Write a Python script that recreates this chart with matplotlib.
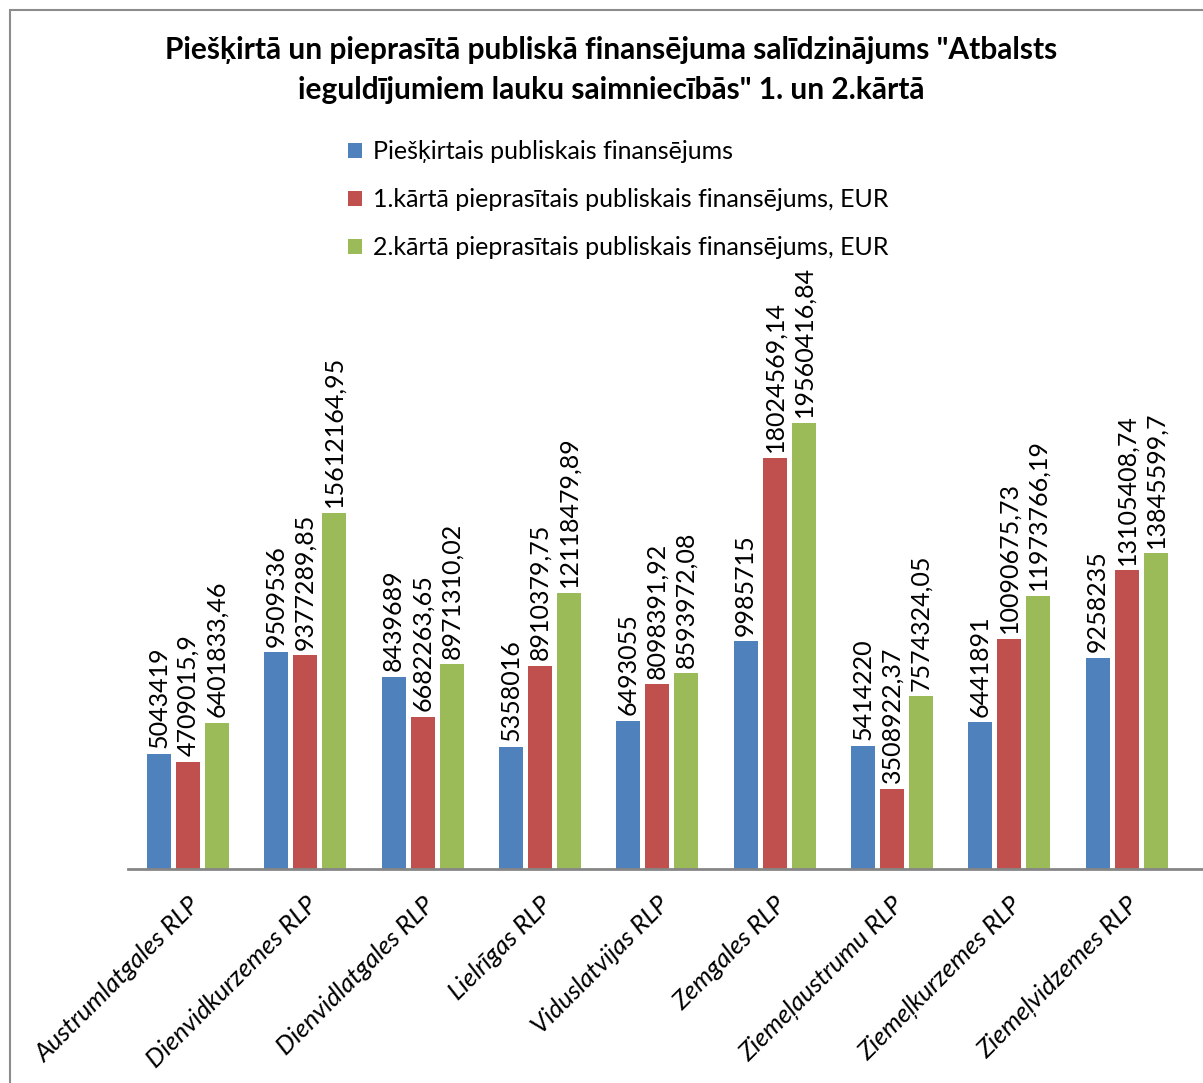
import matplotlib
matplotlib.use('Agg')
import matplotlib.pyplot as plt
from matplotlib.patches import Rectangle
import numpy as np

plt.rcParams['font.family'] = ['Lato', 'DejaVu Sans']

regions = ['Austrumlatgales RLP', 'Dienvidkurzemes RLP', 'Dienvidlatgales RLP', 'Lielrīgas RLP',
           'Viduslatvijas RLP', 'Zemgales RLP', 'Ziemeļaustrumu RLP', 'Ziemeļkurzemes RLP',
           'Ziemeļvidzemes RLP']
pieskirts = [5043419, 9509536, 8439689, 5358016, 6493055, 9985715, 5414220, 6441891, 9258235]
karta1 = [4709015.9, 9377289.85, 6682263.65, 8910379.75, 8098391.92, 18024569.14, 3508922.37,
          10090675.73, 13105408.74]
karta2 = [6401833.46, 15612164.95, 8971310.02, 12118479.89, 8593972.08, 19560416.84, 7574324.05,
          11973766.19, 13845599.7]
series_names = ['Piešķirtais publiskais finansējums',
                '1.kārtā pieprasītais publiskais finansējums, EUR',
                '2.kārtā pieprasītais publiskais finansējums, EUR']
colors = ['#4F81BD', '#C0504D', '#9BBB59']

W, H = 1203, 1083
fig = plt.figure(figsize=(W / 100, H / 100), dpi=100)

# chart border (cropped at right/bottom like the screenshot)
fig.patches.append(Rectangle((10 / W, -0.1), 1.2, 1 - 10 / H + 0.1, transform=fig.transFigure,
                             fill=False, edgecolor='#8c8c8c', lw=1.5))

ax = fig.add_axes([128 / W, (H - 869) / H, 1 - 128 / W, 570 / H])
x = np.arange(len(regions))
width = 0.204
offset = 0.247

def fmt(v):
    s = ('%.2f' % v).rstrip('0').rstrip('.')
    return s.replace('.', ',')

bars = []
for i, (vals, c, name) in enumerate(zip([pieskirts, karta1, karta2], colors, series_names)):
    b = ax.bar(x + (i - 1) * offset, vals, width, color=c, label=name, zorder=2)
    bars.append(b)
    for xi, v in zip(x + (i - 1) * offset, vals):
        ax.annotate(fmt(v), (xi, v), xytext=(0, 4), textcoords='offset points',
                    rotation=90, ha='center', va='bottom', fontsize=18)

ax.set_xlim(-0.51, 8.65)
ax.set_ylim(0, 25e6)
for s in ['top', 'right', 'left']:
    ax.spines[s].set_visible(False)
ax.spines['bottom'].set_color('#868686')
ax.spines['bottom'].set_linewidth(2)
ax.set_yticks([])
ax.set_xticks(x)
ax.set_xticklabels(regions, rotation=45, ha='right', va='top', rotation_mode='anchor',
                   fontsize=18.5, style='italic')
ax.tick_params(axis='x', length=0, pad=17)

fig.text(611 / W, 1 - 70 / H,
         'Piešķirtā un pieprasītā publiskā finansējuma salīdzinājums "Atbalsts\n'
         'ieguldījumiem lauku saimniecībās" 1. un 2.kārtā',
         ha='center', va='center', fontsize=21.5, fontweight='bold', linespacing=1.5)

fig.legend(handles=bars, labels=series_names, loc='upper left',
           bbox_to_anchor=(348 / W, 1 - 140 / H), frameon=False, fontsize=18, borderpad=0,
           borderaxespad=0, handlelength=0.55, handleheight=0.55, handletextpad=0.45,
           labelspacing=1.0)

fig.savefig('out.png', dpi=100)
